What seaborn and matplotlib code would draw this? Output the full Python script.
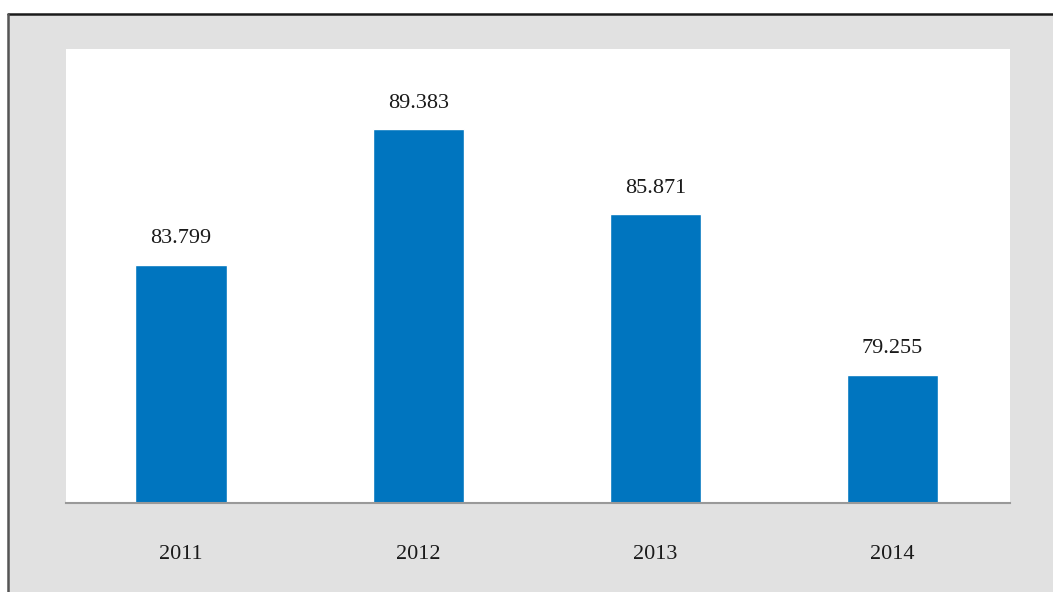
import matplotlib
matplotlib.use("Agg")
import matplotlib.pyplot as plt
import seaborn as sns
import pandas as pd
from matplotlib.patches import Rectangle
from matplotlib.lines import Line2D

years = ["2011", "2012", "2013", "2014"]
values = [83.799, 89.383, 85.871, 79.255]
labels = ["83.799", "89.383", "85.871", "79.255"]

sns.set_theme(style="white")
plt.rcParams["font.family"] = ["Liberation Serif", "DejaVu Serif"]

W, H = 1053, 592
fig = plt.figure(figsize=(W / 100, H / 100), dpi=100, facecolor="white")

# gray frame background
fig.patches.append(Rectangle((8 / W, 0), 1 - 8 / W, (H - 14) / H, transform=fig.transFigure,
                             facecolor="#e1e1e1", edgecolor="none", zorder=-10))
fig.lines.append(Line2D([8 / W, 1], [(H - 14) / H] * 2, transform=fig.transFigure,
                        color="#1a1a1a", lw=1.8))
fig.lines.append(Line2D([8 / W] * 2, [0, (H - 14) / H], transform=fig.transFigure,
                        color="#555555", lw=1.8))

ax = fig.add_axes([66 / W, (H - 503) / H, (1010 - 66) / W, (503 - 49) / H])
ax.set_facecolor("white")

df = pd.DataFrame({"year": years, "value": values})
sns.barplot(data=df, x="year", y="value", color="#0075bf", saturation=1, width=0.385, ax=ax)

ax.set_ylim(73.95, 92.7)
ax.set_xlim(-0.485, 3.495)
ax.set_xlabel("")
ax.set_ylabel("")
ax.set_yticks([])
for s in ["top", "right", "left"]:
    ax.spines[s].set_visible(False)
ax.spines["bottom"].set_color("#999999")
ax.spines["bottom"].set_linewidth(1.5)
ax.tick_params(axis="x", length=0, pad=30, labelsize=16, labelcolor="#1a1a1a")

for i, (v, t) in enumerate(zip(values, labels)):
    ax.annotate(t, (i, v), xytext=(0, 12), textcoords="offset points",
                ha="center", va="bottom", fontsize=16, color="#1a1a1a")

fig.savefig("out.png", dpi=100, facecolor="white")
